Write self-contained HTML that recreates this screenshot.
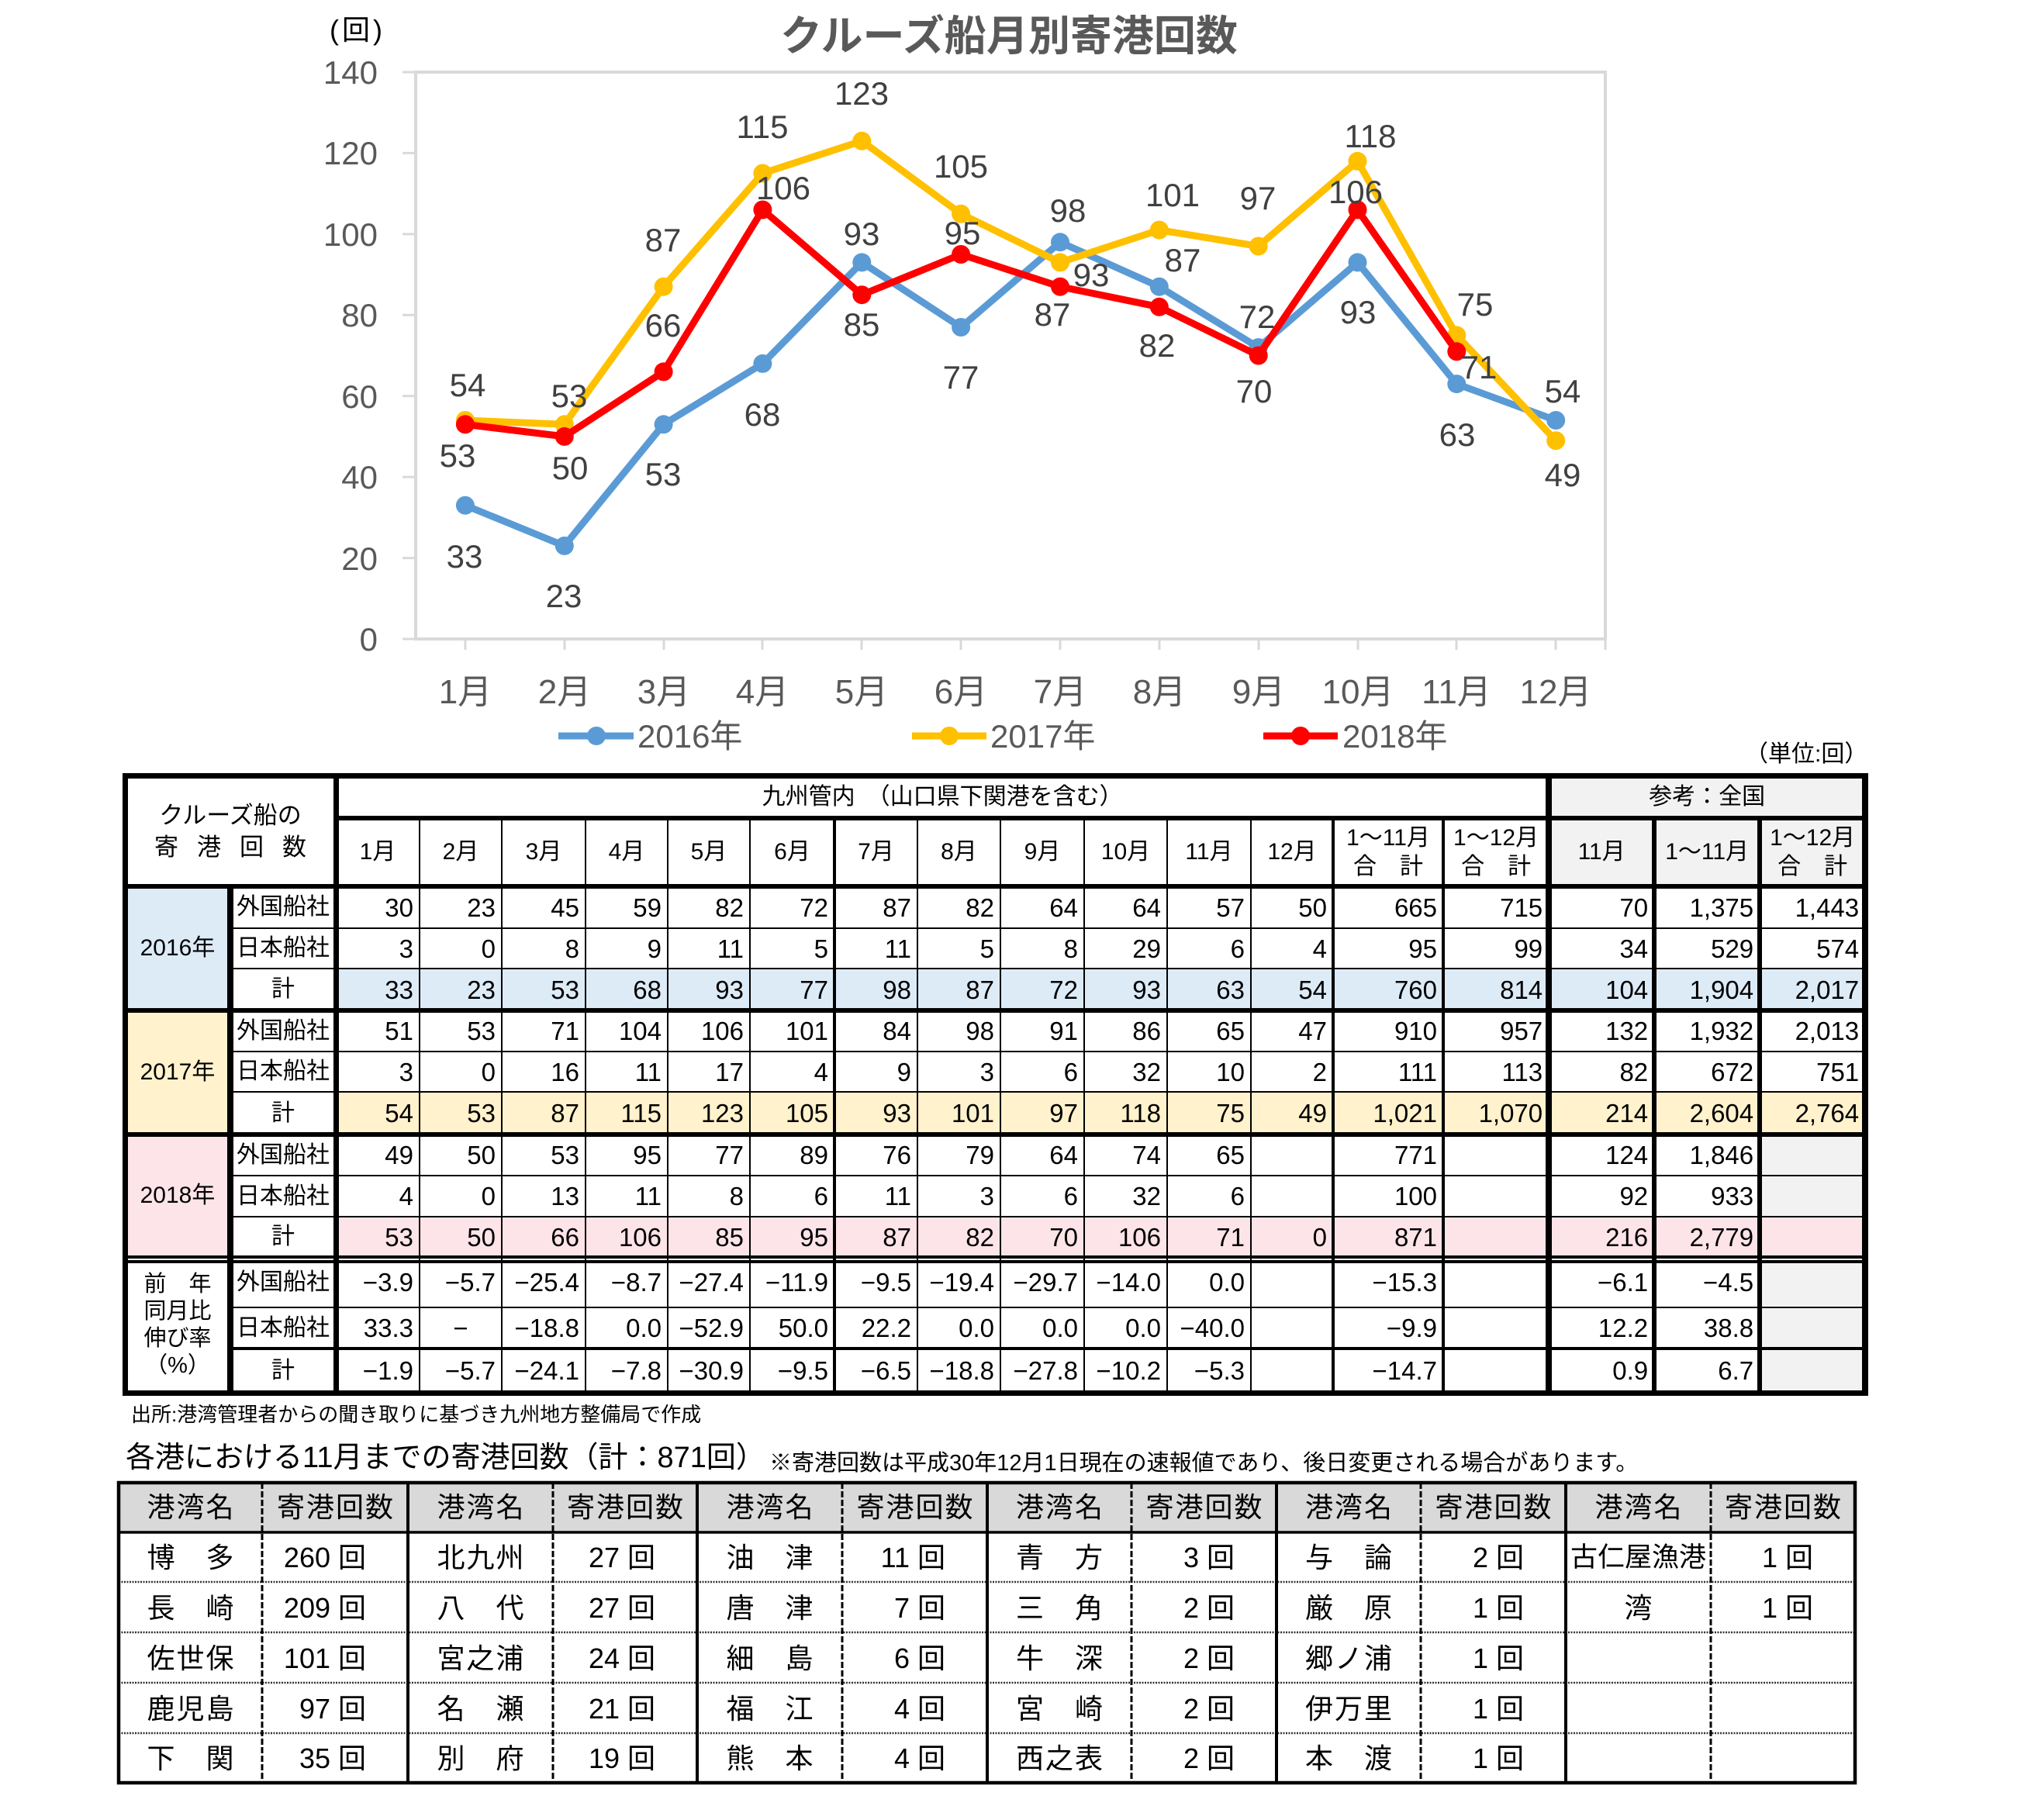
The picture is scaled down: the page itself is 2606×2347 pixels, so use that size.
<!DOCTYPE html>
<html><head><meta charset="utf-8">
<style>
html,body{margin:0;padding:0;background:#fff;}
body{width:2606px;height:2347px;position:relative;overflow:hidden;font-family:"Liberation Sans","Noto Sans CJK JP",sans-serif;color:#000;}
.a{position:absolute;white-space:nowrap;}
.L{position:absolute;background:#000;}
table{border-collapse:collapse;table-layout:fixed;position:absolute;border-spacing:0;}
td{padding:0;border:none;overflow:hidden;white-space:nowrap;line-height:1;box-sizing:border-box;vertical-align:middle;}
#t1 td{font-family:"Liberation Sans Narrow","Liberation Sans","Noto Sans CJK JP",sans-serif;font-size:33px;text-align:right;padding-right:8px;}
#t1 td.l,#t1 tr.h td{font-family:"Liberation Sans","Noto Sans CJK JP",sans-serif;font-size:30px;text-align:center;padding:0;}
#t1 td.c{text-align:center;padding:0;}
#t1 td.two{font-size:29px;line-height:37px;}
#t1 td.g{background:#f2f2f2;}
#t1 td.b{background:#ddebf7;}
#t1 td.y{background:#fff2cc;}
#t1 td.p{background:#fde4e9;}
#t1 tr.sb td{background:#ddebf7;}
#t1 tr.sy td{background:#fff2cc;}
#t1 tr.sp td{background:#fde4e9;}
#t1 td.w{background:#fff !important;}
#t2 td{font-family:"Liberation Sans","Noto Sans CJK JP",sans-serif;font-size:36px;}
#t2 td.nm{text-align:center;letter-spacing:2px;padding-left:2px;}
#t2 td.ct{text-align:right;padding-right:54px;}
#t2 tr.hd td{background:#d9d9d9;text-align:center;letter-spacing:2px;padding-left:2px;}
</style></head>
<body>

<svg class="a" style="left:0;top:0" width="2606" height="1000" viewBox="0 0 2606 1000" font-family="Liberation Sans, Noto Sans CJK JP, sans-serif">
<text x="1301" y="65" font-size="54" font-weight="bold" fill="#595959" text-anchor="middle">クルーズ船月別寄港回数</text>
<text x="425" y="51" font-size="36" fill="#000" letter-spacing="4">(回)</text>
<rect x="536" y="93" width="1534" height="731" fill="none" stroke="#d9d9d9" stroke-width="4"/>
<g stroke="#d9d9d9" stroke-width="3">
<line x1="519" y1="824" x2="536" y2="824"/><line x1="519" y1="719.6" x2="536" y2="719.6"/><line x1="519" y1="615.1" x2="536" y2="615.1"/><line x1="519" y1="510.7" x2="536" y2="510.7"/><line x1="519" y1="406.3" x2="536" y2="406.3"/><line x1="519" y1="301.9" x2="536" y2="301.9"/><line x1="519" y1="197.4" x2="536" y2="197.4"/><line x1="519" y1="93" x2="536" y2="93"/>
<line x1="600" y1="824" x2="600" y2="838"/><line x1="728" y1="824" x2="728" y2="838"/><line x1="856" y1="824" x2="856" y2="838"/><line x1="983" y1="824" x2="983" y2="838"/><line x1="1111" y1="824" x2="1111" y2="838"/><line x1="1239" y1="824" x2="1239" y2="838"/><line x1="1367" y1="824" x2="1367" y2="838"/><line x1="1495" y1="824" x2="1495" y2="838"/><line x1="1623" y1="824" x2="1623" y2="838"/><line x1="1751" y1="824" x2="1751" y2="838"/><line x1="1878" y1="824" x2="1878" y2="838"/><line x1="2006" y1="824" x2="2006" y2="838"/><line x1="2070" y1="824" x2="2070" y2="838"/>
</g>
<g font-size="42" fill="#595959" text-anchor="end">
<text x="487" y="839">0</text><text x="487" y="735">20</text><text x="487" y="630">40</text><text x="487" y="526">60</text><text x="487" y="421">80</text><text x="487" y="317">100</text><text x="487" y="212">120</text><text x="487" y="108">140</text>
</g>
<g font-size="44" fill="#595959" text-anchor="middle">
<text x="600" y="907">1月</text><text x="728" y="907">2月</text><text x="856" y="907">3月</text><text x="983" y="907">4月</text><text x="1111" y="907">5月</text><text x="1239" y="907">6月</text><text x="1367" y="907">7月</text><text x="1495" y="907">8月</text><text x="1623" y="907">9月</text><text x="1751" y="907">10月</text><text x="1878" y="907">11月</text><text x="2006" y="907">12月</text>
</g>
<g stroke="#5b9bd5" fill="#5b9bd5">
<polyline fill="none" stroke-width="9" stroke-linejoin="round" stroke-linecap="round" points="599.9,651.7 727.8,703.9 855.6,547.3 983.4,468.9 1111.3,338.4 1239.1,422 1367,312.3 1494.8,369.7 1622.7,448.1 1750.5,338.4 1878.3,495.1 2006.2,542"/>
<g stroke="none">
<circle cx="599.9" cy="651.7" r="12"/><circle cx="727.8" cy="703.9" r="12"/><circle cx="855.6" cy="547.3" r="12"/><circle cx="983.4" cy="468.9" r="12"/><circle cx="1111.3" cy="338.4" r="12"/><circle cx="1239.1" cy="422" r="12"/><circle cx="1367" cy="312.3" r="12"/><circle cx="1494.8" cy="369.7" r="12"/><circle cx="1622.7" cy="448.1" r="12"/><circle cx="1750.5" cy="338.4" r="12"/><circle cx="1878.3" cy="495.1" r="12"/><circle cx="2006.2" cy="542" r="12"/>
</g></g>
<g stroke="#ffc000" fill="#ffc000">
<polyline fill="none" stroke-width="9" stroke-linejoin="round" stroke-linecap="round" points="599.9,542 727.8,547.3 855.6,369.7 983.4,223.5 1111.3,181.8 1239.1,275.8 1367,338.4 1494.8,296.6 1622.7,317.5 1750.5,207.9 1878.3,432.4 2006.2,568.2"/>
<g stroke="none">
<circle cx="599.9" cy="542" r="12"/><circle cx="727.8" cy="547.3" r="12"/><circle cx="855.6" cy="369.7" r="12"/><circle cx="983.4" cy="223.5" r="12"/><circle cx="1111.3" cy="181.8" r="12"/><circle cx="1239.1" cy="275.8" r="12"/><circle cx="1367" cy="338.4" r="12"/><circle cx="1494.8" cy="296.6" r="12"/><circle cx="1622.7" cy="317.5" r="12"/><circle cx="1750.5" cy="207.9" r="12"/><circle cx="1878.3" cy="432.4" r="12"/><circle cx="2006.2" cy="568.2" r="12"/>
</g></g>
<g stroke="#ff0000" fill="#ff0000">
<polyline fill="none" stroke-width="9" stroke-linejoin="round" stroke-linecap="round" points="599.9,547.3 727.8,562.9 855.6,479.4 983.4,270.5 1111.3,380.2 1239.1,328 1367,369.7 1494.8,395.8 1622.7,458.5 1750.5,270.5 1878.3,453.3"/>
<g stroke="none">
<circle cx="599.9" cy="547.3" r="12"/><circle cx="727.8" cy="562.9" r="12"/><circle cx="855.6" cy="479.4" r="12"/><circle cx="983.4" cy="270.5" r="12"/><circle cx="1111.3" cy="380.2" r="12"/><circle cx="1239.1" cy="328" r="12"/><circle cx="1367" cy="369.7" r="12"/><circle cx="1494.8" cy="395.8" r="12"/><circle cx="1622.7" cy="458.5" r="12"/><circle cx="1750.5" cy="270.5" r="12"/><circle cx="1878.3" cy="453.3" r="12"/>
</g></g>
<g font-size="42" fill="#404040" text-anchor="middle">
<text x="599" y="732">33</text><text x="727" y="783">23</text><text x="855" y="626">53</text><text x="983" y="549">68</text><text x="1111" y="316">93</text><text x="1239" y="501">77</text><text x="1377" y="286">98</text><text x="1525" y="350">87</text><text x="1621" y="423">72</text><text x="1751" y="417">93</text><text x="1879" y="575">63</text><text x="2015" y="519">54</text>
<text x="603" y="511">54</text><text x="734" y="525">53</text><text x="855" y="324">87</text><text x="983" y="178">115</text><text x="1111" y="135">123</text><text x="1239" y="229">105</text><text x="1407" y="369">93</text><text x="1512" y="266">101</text><text x="1622" y="270">97</text><text x="1767" y="190">118</text><text x="1902" y="407">75</text><text x="2015" y="627">49</text>
<text x="590" y="602">53</text><text x="735" y="618">50</text><text x="855" y="434">66</text><text x="1010" y="257">106</text><text x="1111" y="433">85</text><text x="1241" y="315">95</text><text x="1357" y="420">87</text><text x="1492" y="460">82</text><text x="1617" y="519">70</text><text x="1748" y="262">106</text><text x="1907" y="488">71</text>
</g>
<line x1="720" y1="949" x2="817" y2="949" stroke="#5b9bd5" stroke-width="9"/><circle cx="769" cy="949" r="12" fill="#5b9bd5"/>
<line x1="1176" y1="949" x2="1272" y2="949" stroke="#ffc000" stroke-width="9"/><circle cx="1224" cy="949" r="12" fill="#ffc000"/>
<line x1="1629" y1="949" x2="1725" y2="949" stroke="#ff0000" stroke-width="9"/><circle cx="1677" cy="949" r="12" fill="#ff0000"/>
<g font-size="42" fill="#595959">
<text x="822" y="964">2016年</text><text x="1277" y="964">2017年</text><text x="1731" y="964">2018年</text>
</g>
</svg>

<div class="a" style="left:2250px;top:958px;font-size:30px;line-height:30px;">（単位:回）</div>

<table id="t1" style="left:161px;top:1000px;width:2244px;">
<colgroup><col style="width:136px"><col style="width:136px"><col style="width:108px"><col style="width:106px"><col style="width:108px"><col style="width:106px"><col style="width:106px"><col style="width:109px"><col style="width:107px"><col style="width:107px"><col style="width:108px"><col style="width:107px"><col style="width:108px"><col style="width:106px"><col style="width:142px"><col style="width:136px"><col style="width:136px"><col style="width:136px"><col style="width:136px"></colgroup>
<tr class="h" style="height:55px"><td colspan="2" rowspan="2" style="font-size:31px;line-height:41px">クルーズ船の<br><span style="letter-spacing:24px;margin-right:-24px">寄港回数</span></td><td colspan="14">九州管内　（山口県下関港を含む）</td><td colspan="3" class="g">参考：全国</td></tr>
<tr class="h" style="height:88px"><td>1月</td><td>2月</td><td>3月</td><td>4月</td><td>5月</td><td>6月</td><td>7月</td><td>8月</td><td>9月</td><td>10月</td><td>11月</td><td>12月</td><td class="two">1〜11月<br>合　計</td><td class="two">1〜12月<br>合　計</td><td class="g">11月</td><td class="g">1〜11月</td><td class="g two">1〜12月<br>合　計</td></tr>

<tr style="height:54px"><td rowspan="3" class="l b">2016年</td><td class="l">外国船社</td><td>30</td><td>23</td><td>45</td><td>59</td><td>82</td><td>72</td><td>87</td><td>82</td><td>64</td><td>64</td><td>57</td><td>50</td><td>665</td><td>715</td><td>70</td><td>1,375</td><td>1,443</td></tr>
<tr style="height:52px"><td class="l">日本船社</td><td>3</td><td>0</td><td>8</td><td>9</td><td>11</td><td>5</td><td>11</td><td>5</td><td>8</td><td>29</td><td>6</td><td>4</td><td>95</td><td>99</td><td>34</td><td>529</td><td>574</td></tr>
<tr class="sb" style="height:54px"><td class="l w">計</td><td>33</td><td>23</td><td>53</td><td>68</td><td>93</td><td>77</td><td>98</td><td>87</td><td>72</td><td>93</td><td>63</td><td>54</td><td>760</td><td>814</td><td>104</td><td>1,904</td><td>2,017</td></tr>

<tr style="height:53px"><td rowspan="3" class="l y">2017年</td><td class="l">外国船社</td><td>51</td><td>53</td><td>71</td><td>104</td><td>106</td><td>101</td><td>84</td><td>98</td><td>91</td><td>86</td><td>65</td><td>47</td><td>910</td><td>957</td><td>132</td><td>1,932</td><td>2,013</td></tr>
<tr style="height:52px"><td class="l">日本船社</td><td>3</td><td>0</td><td>16</td><td>11</td><td>17</td><td>4</td><td>9</td><td>3</td><td>6</td><td>32</td><td>10</td><td>2</td><td>111</td><td>113</td><td>82</td><td>672</td><td>751</td></tr>
<tr class="sy" style="height:55px"><td class="l w">計</td><td>54</td><td>53</td><td>87</td><td>115</td><td>123</td><td>105</td><td>93</td><td>101</td><td>97</td><td>118</td><td>75</td><td>49</td><td>1,021</td><td>1,070</td><td>214</td><td>2,604</td><td>2,764</td></tr>

<tr style="height:53px"><td rowspan="3" class="l p">2018年</td><td class="l">外国船社</td><td>49</td><td>50</td><td>53</td><td>95</td><td>77</td><td>89</td><td>76</td><td>79</td><td>64</td><td>74</td><td>65</td><td></td><td>771</td><td></td><td>124</td><td>1,846</td><td class="g"></td></tr>
<tr style="height:53px"><td class="l">日本船社</td><td>4</td><td>0</td><td>13</td><td>11</td><td>8</td><td>6</td><td>11</td><td>3</td><td>6</td><td>32</td><td>6</td><td></td><td>100</td><td></td><td>92</td><td>933</td><td class="g"></td></tr>
<tr class="sp" style="height:52px"><td class="l w">計</td><td>53</td><td>50</td><td>66</td><td>106</td><td>85</td><td>95</td><td>87</td><td>82</td><td>70</td><td>106</td><td>71</td><td>0</td><td>871</td><td></td><td>216</td><td>2,779</td><td></td></tr>

<tr style="height:65px"><td rowspan="3" class="l" style="font-size:29px;line-height:35px">前　年<br>同月比<br>伸び率<br>（%）</td><td class="l">外国船社</td><td>−3.9</td><td>−5.7</td><td>−25.4</td><td>−8.7</td><td>−27.4</td><td>−11.9</td><td>−9.5</td><td>−19.4</td><td>−29.7</td><td>−14.0</td><td>0.0</td><td></td><td>−15.3</td><td></td><td>−6.1</td><td>−4.5</td><td class="g"></td></tr>
<tr style="height:53px"><td class="l">日本船社</td><td>33.3</td><td class="c">−</td><td>−18.8</td><td>0.0</td><td>−52.9</td><td>50.0</td><td>22.2</td><td>0.0</td><td>0.0</td><td>0.0</td><td>−40.0</td><td></td><td>−9.9</td><td></td><td>12.2</td><td>38.8</td><td class="g"></td></tr>
<tr style="height:57px"><td class="l">計</td><td>−1.9</td><td>−5.7</td><td>−24.1</td><td>−7.8</td><td>−30.9</td><td>−9.5</td><td>−6.5</td><td>−18.8</td><td>−27.8</td><td>−10.2</td><td>−5.3</td><td></td><td>−14.7</td><td></td><td>0.9</td><td>6.7</td><td class="g"></td></tr>
</table>

<div class="L" style="left:158px;top:997px;width:2251px;height:7px"></div>
<div class="L" style="left:433px;top:1052px;width:1972px;height:6px"></div>
<div class="L" style="left:158px;top:1140px;width:2251px;height:6px"></div>
<div class="L" style="left:297px;top:1196px;width:2108px;height:2px"></div>
<div class="L" style="left:297px;top:1248px;width:2108px;height:2px"></div>
<div class="L" style="left:158px;top:1300px;width:2251px;height:6px"></div>
<div class="L" style="left:297px;top:1355px;width:2108px;height:2px"></div>
<div class="L" style="left:297px;top:1407px;width:2108px;height:2px"></div>
<div class="L" style="left:158px;top:1460px;width:2251px;height:6px"></div>
<div class="L" style="left:297px;top:1515px;width:2108px;height:2px"></div>
<div class="L" style="left:297px;top:1568px;width:2108px;height:2px"></div>
<div class="L" style="left:158px;top:1619px;width:2251px;height:4px"></div>
<div class="L" style="left:158px;top:1625px;width:2251px;height:4px"></div>
<div class="L" style="left:297px;top:1685px;width:2108px;height:2px"></div>
<div class="L" style="left:297px;top:1737px;width:2108px;height:4px"></div>
<div class="L" style="left:158px;top:1793px;width:2251px;height:7px"></div>

<div class="L" style="left:158px;top:997px;width:7px;height:803px"></div>
<div class="L" style="left:293px;top:1140px;width:8px;height:660px"></div>
<div class="L" style="left:430px;top:997px;width:7px;height:803px"></div>
<div class="L" style="left:540px;top:1052px;width:2px;height:748px"></div>
<div class="L" style="left:646px;top:1052px;width:2px;height:748px"></div>
<div class="L" style="left:754px;top:1052px;width:2px;height:748px"></div>
<div class="L" style="left:860px;top:1052px;width:2px;height:748px"></div>
<div class="L" style="left:966px;top:1052px;width:2px;height:748px"></div>
<div class="L" style="left:1074px;top:1052px;width:4px;height:748px"></div>
<div class="L" style="left:1182px;top:1052px;width:2px;height:748px"></div>
<div class="L" style="left:1289px;top:1052px;width:2px;height:748px"></div>
<div class="L" style="left:1397px;top:1052px;width:2px;height:748px"></div>
<div class="L" style="left:1504px;top:1052px;width:2px;height:748px"></div>
<div class="L" style="left:1612px;top:1052px;width:2px;height:748px"></div>
<div class="L" style="left:1717px;top:1052px;width:4px;height:748px"></div>
<div class="L" style="left:1859px;top:1052px;width:4px;height:748px"></div>
<div class="L" style="left:1993px;top:997px;width:8px;height:803px"></div>
<div class="L" style="left:2130px;top:1052px;width:6px;height:748px"></div>
<div class="L" style="left:2266px;top:1052px;width:6px;height:748px"></div>
<div class="L" style="left:2401px;top:997px;width:8px;height:803px"></div>

<div class="a" style="left:169px;top:1811px;font-size:26px;line-height:26px;">出所:港湾管理者からの聞き取りに基づき九州地方整備局で作成</div>
<div class="a" style="left:162px;top:1861px;font-size:38px;line-height:38px;">各港における11月までの寄港回数（計：871回）</div>
<div class="a" style="left:992px;top:1873px;font-size:29px;line-height:29px;">※寄港回数は平成30年12月1日現在の速報値であり、後日変更される場合があります。</div>

<table id="t2" style="left:153px;top:1912px;width:2239px;">
<colgroup><col style="width:185px"><col style="width:188px"><col style="width:187px"><col style="width:186px"><col style="width:187px"><col style="width:187px"><col style="width:186px"><col style="width:187px"><col style="width:186px"><col style="width:187px"><col style="width:187px"><col style="width:186px"></colgroup>
<tr class="hd" style="height:64px"><td>港湾名</td><td>寄港回数</td><td>港湾名</td><td>寄港回数</td><td>港湾名</td><td>寄港回数</td><td>港湾名</td><td>寄港回数</td><td>港湾名</td><td>寄港回数</td><td>港湾名</td><td>寄港回数</td></tr>
<tr style="height:65px"><td class="nm">博　多</td><td class="ct">260 回</td><td class="nm">北九州</td><td class="ct">27 回</td><td class="nm">油　津</td><td class="ct">11 回</td><td class="nm">青　方</td><td class="ct">3 回</td><td class="nm">与　論</td><td class="ct">2 回</td><td class="nm" style="letter-spacing:0;padding:0;font-size:35px">古仁屋漁港</td><td class="ct">1 回</td></tr>
<tr style="height:65px"><td class="nm">長　崎</td><td class="ct">209 回</td><td class="nm">八　代</td><td class="ct">27 回</td><td class="nm">唐　津</td><td class="ct">7 回</td><td class="nm">三　角</td><td class="ct">2 回</td><td class="nm">厳　原</td><td class="ct">1 回</td><td class="nm">湾</td><td class="ct">1 回</td></tr>
<tr style="height:65px"><td class="nm">佐世保</td><td class="ct">101 回</td><td class="nm">宮之浦</td><td class="ct">24 回</td><td class="nm">細　島</td><td class="ct">6 回</td><td class="nm">牛　深</td><td class="ct">2 回</td><td class="nm">郷ノ浦</td><td class="ct">1 回</td><td class="nm"></td><td class="ct"></td></tr>
<tr style="height:65px"><td class="nm">鹿児島</td><td class="ct">97 回</td><td class="nm">名　瀬</td><td class="ct">21 回</td><td class="nm">福　江</td><td class="ct">4 回</td><td class="nm">宮　崎</td><td class="ct">2 回</td><td class="nm">伊万里</td><td class="ct">1 回</td><td class="nm"></td><td class="ct"></td></tr>
<tr style="height:64px"><td class="nm">下　関</td><td class="ct">35 回</td><td class="nm">別　府</td><td class="ct">19 回</td><td class="nm">熊　本</td><td class="ct">4 回</td><td class="nm">西之表</td><td class="ct">2 回</td><td class="nm">本　渡</td><td class="ct">1 回</td><td class="nm"></td><td class="ct"></td></tr>
</table>

<svg class="a" style="left:0;top:1900px" width="2606" height="420" viewBox="0 1900 2606 420">
<g stroke="#333" stroke-width="2.5" stroke-dasharray="2 1.5">
<line x1="153" y1="2040" x2="2392" y2="2040"/><line x1="153" y1="2105" x2="2392" y2="2105"/><line x1="153" y1="2170" x2="2392" y2="2170"/><line x1="153" y1="2235" x2="2392" y2="2235"/>
</g>
<g stroke="#000" stroke-width="3" stroke-dasharray="8 3">
<line x1="338" y1="1912" x2="338" y2="2299"/><line x1="713" y1="1912" x2="713" y2="2299"/><line x1="1086" y1="1912" x2="1086" y2="2299"/><line x1="1459" y1="1912" x2="1459" y2="2299"/><line x1="1832" y1="1912" x2="1832" y2="2299"/><line x1="2206" y1="1912" x2="2206" y2="2299"/>
</g>
<g stroke="#000" stroke-width="4">
<line x1="526" y1="1912" x2="526" y2="2299"/><line x1="899" y1="1912" x2="899" y2="2299"/><line x1="1273" y1="1912" x2="1273" y2="2299"/><line x1="1646" y1="1912" x2="1646" y2="2299"/><line x1="2019" y1="1912" x2="2019" y2="2299"/>
</g>
<line x1="153" y1="1976" x2="2392" y2="1976" stroke="#000" stroke-width="3.5"/>
<rect x="153" y="1912" width="2239" height="387" fill="none" stroke="#000" stroke-width="4.5"/>
</svg>

</body></html>
